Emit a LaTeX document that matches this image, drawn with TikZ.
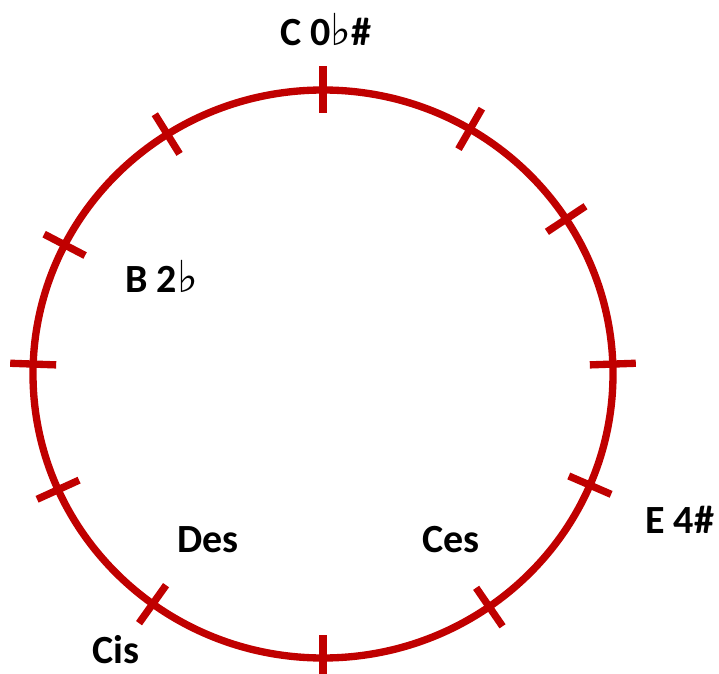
\documentclass[tikz,border=0pt]{standalone}
\usepackage{fontspec}
\setmainfont{Carlito}
\newfontfamily\symfont{DejaVu Sans}
\definecolor{ring}{RGB}{192,0,0}
\newcommand{\flatsign}{{\symfont\mdseries\fontsize{33}{36}\selectfont ♭}}
\begin{document}
\begin{tikzpicture}[x=0.75pt,y=-0.75pt,
  lbl/.style={font=\fontsize{30}{36}\selectfont\bfseries, inner sep=0pt, anchor=base west},
  ringline/.style={draw=ring, line width=5.5pt}]
\useasboundingbox (0,0) rectangle (719,674);
\draw[ringline] (323,374) ellipse [x radius=290, y radius=284];
\foreach \a in {0,30.5,57,88,113,145,180,216,246,272,297,327.5}
  \draw[ringline] ({323+267*sin(\a)},{374-261*cos(\a)}) -- ({323+313*sin(\a)},{374-308*cos(\a)});
\node[lbl] (c) at (280,46) {C 0\flatsign\#};
\node[lbl] (b) at (125,292) {B 2\flatsign};
\node[lbl] (des) at (177,552) {Des};
\node[lbl] (ces) at (422,552) {Ces};
\node[lbl] (e) at (645,533) {E 4\#};
\node[lbl] (cis) at (92,663) {Cis};
\end{tikzpicture}
\end{document}
